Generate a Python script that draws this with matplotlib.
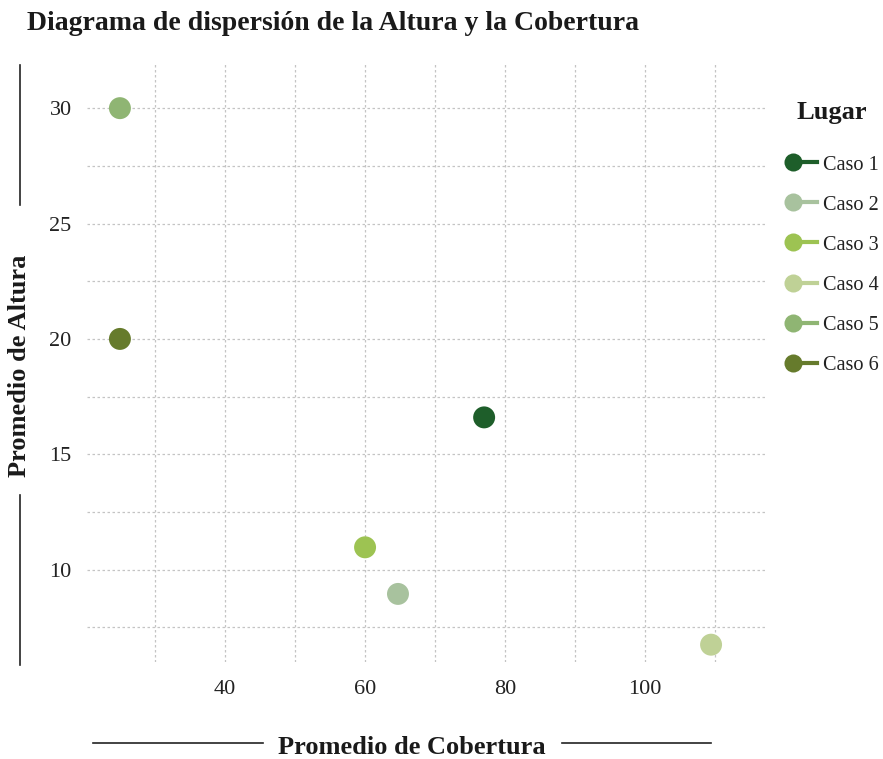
import matplotlib
matplotlib.use("Agg")
import matplotlib.pyplot as plt
from matplotlib.lines import Line2D
from matplotlib.ticker import MultipleLocator

plt.rcParams.update({
    "font.family": ["Liberation Serif", "DejaVu Serif"],
    "font.size": 12,
})

casos = ["Caso 1", "Caso 2", "Caso 3", "Caso 4", "Caso 5", "Caso 6"]
cobertura = [77.0, 64.7, 60.0, 109.4, 25.0, 25.0]
altura = [16.6, 8.95, 10.97, 6.75, 30.0, 20.0]
colores = ["#1e5e2a", "#a8c29e", "#9dc352", "#bfd196", "#8fb573", "#667b2c"]

W, H = 883, 759
fig = plt.figure(figsize=(W / 100, H / 100), dpi=100)
ax = fig.add_axes([87 / W, 1 - 662 / H, (765 - 87) / W, (662 - 62) / H])

for x, y, c in zip(cobertura, altura, colores):
    ax.scatter(x, y, s=250, color=c, edgecolors="none", zorder=3)

ax.set_xlim(20.3, 117.1)
ax.set_ylim(6.0, 32.0)
ax.xaxis.set_major_locator(MultipleLocator(20))
ax.xaxis.set_minor_locator(MultipleLocator(10))
ax.yaxis.set_major_locator(MultipleLocator(5))
ax.yaxis.set_minor_locator(MultipleLocator(2.5))
ax.grid(True, which="both", color="#c4c4c4", linestyle=(0, (2, 2)), linewidth=0.9)
ax.set_axisbelow(True)
for s in ax.spines.values():
    s.set_visible(False)
ax.tick_params(which="both", length=0)
ax.tick_params(axis="x", pad=13, labelsize=16, colors="#222222")
ax.tick_params(axis="y", pad=11, labelsize=16, colors="#222222")

fig.text(27 / W, 1 - 23 / H, "Diagrama de dispersión de la Altura y la Cobertura",
         fontsize=20, fontweight="bold", ha="left", va="center", color="#1a1a1a")

# axis labels with side rules
fig.text(20 / W, 1 - 366 / H, "Promedio de Altura", rotation=90, fontsize=19,
         fontweight="bold", ha="center", va="center", color="#1a1a1a")
for y0, y1 in [(65, 205), (495, 665)]:
    fig.add_artist(Line2D([20 / W, 20 / W], [1 - y0 / H, 1 - y1 / H], color="#222222", lw=1.2))
fig.text(412 / W, 1 - 747 / H, "Promedio de Cobertura", fontsize=19,
         fontweight="bold", ha="center", va="center", color="#1a1a1a")
for x0, x1 in [(93, 263), (562, 711)]:
    fig.add_artist(Line2D([x0 / W, x1 / W], [1 - 743 / H, 1 - 743 / H], color="#222222", lw=1.2))

# legend
fig.text(832 / W, 1 - 112 / H, "Lugar", fontsize=19, fontweight="bold",
         ha="center", va="center", color="#1a1a1a")
for i, (lab, c) in enumerate(zip(casos, colores)):
    yy = 1 - (162 + i * 40.2) / H
    fig.add_artist(Line2D([793 / W, 817 / W], [yy, yy], color=c, lw=3))
    fig.add_artist(Line2D([793 / W], [yy], marker="o", markersize=13, color=c,
                          markeredgewidth=0, linestyle="none"))
    fig.text(823 / W, yy - 3 / H, lab, fontsize=14.6, ha="left", va="center", color="#222222")

fig.savefig("out.png", dpi=100)
